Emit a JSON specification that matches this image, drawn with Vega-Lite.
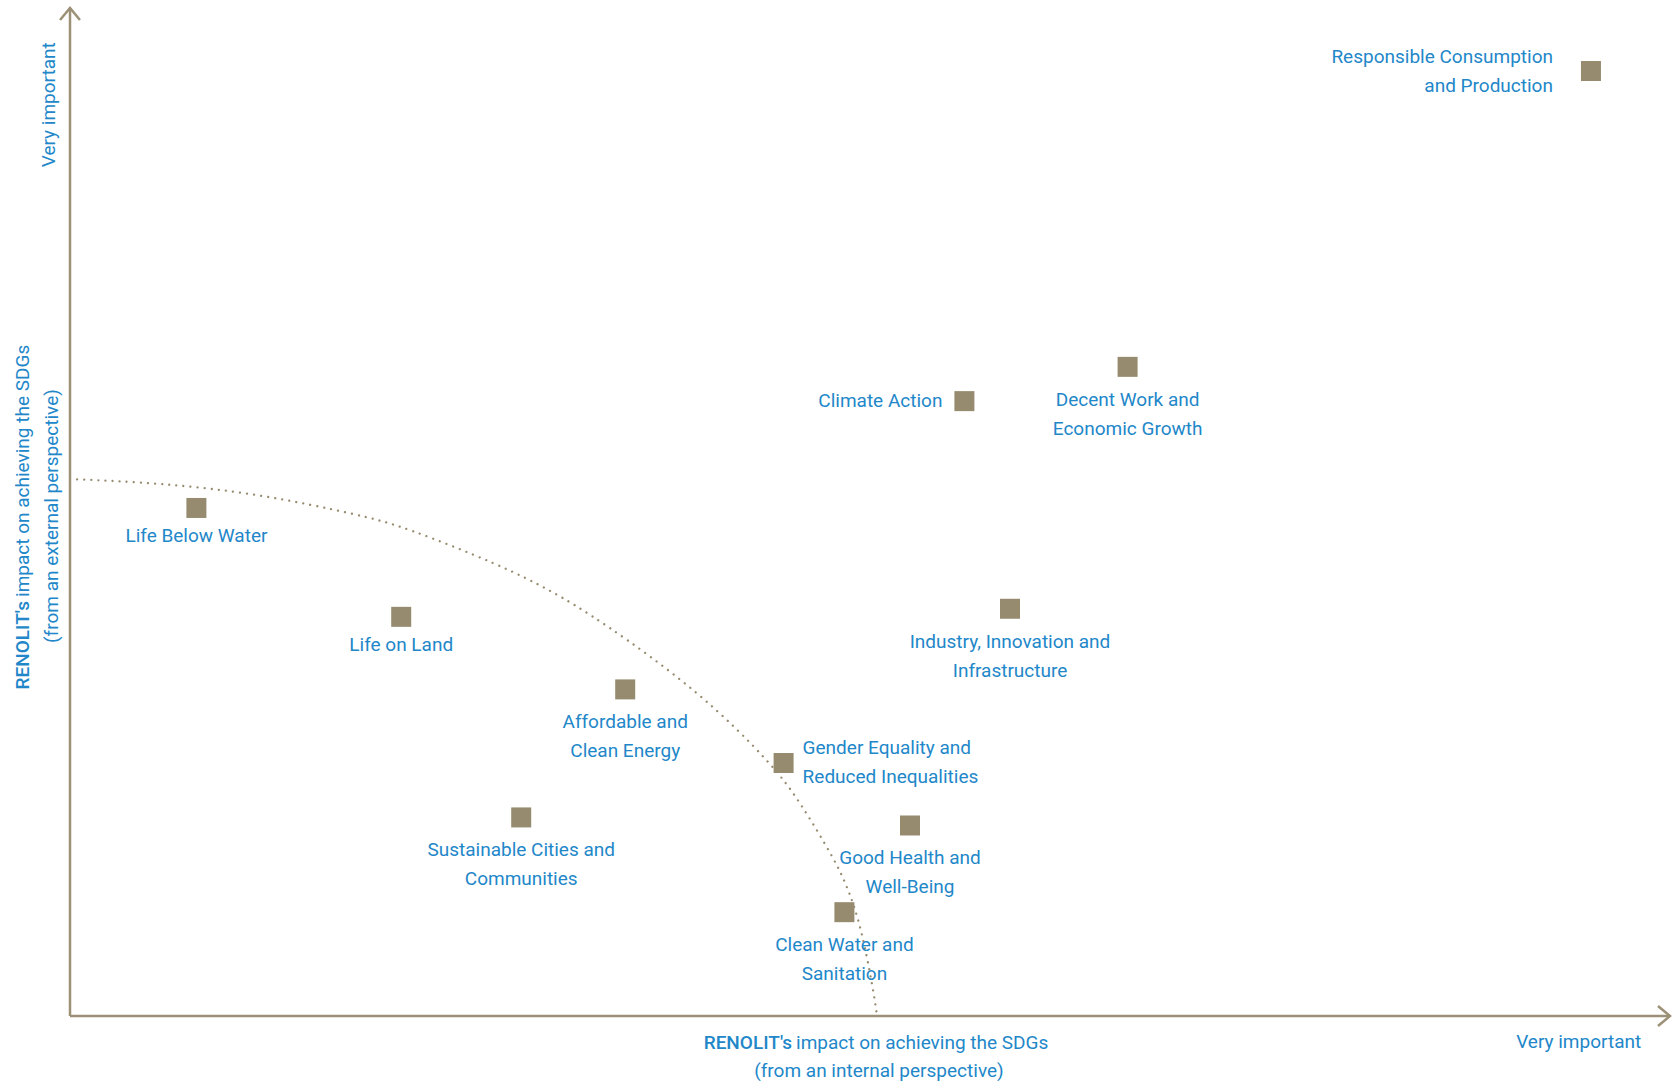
{
  "$schema": "https://vega.github.io/schema/vega-lite/v6.json",
  "usermeta": {"embedOptions": {"actions": false}},
  "width": 1600,
  "height": 1008,
  "autosize": {"type": "none"},
  "padding": {"left": 70, "top": 8, "right": 2, "bottom": 71},
  "background": "white",
  "config": {
    "view": {"stroke": null},
    "text": {"font": "Roboto", "fontSize": 19, "fontWeight": 400, "color": "#2287c9"}
  },
  "datasets": {
    "sdgs": [
      {"name": "Responsible Consumption and Production", "label": "Responsible Consumption\nand Production", "x": 95.06, "y": 93.75},
      {"name": "Decent Work and Economic Growth", "label": "Decent Work and\nEconomic Growth", "x": 66.1, "y": 64.4},
      {"name": "Climate Action", "label": "Climate Action", "x": 55.9, "y": 61.0},
      {"name": "Industry, Innovation and Infrastructure", "label": "Industry, Innovation and\nInfrastructure", "x": 58.75, "y": 40.4},
      {"name": "Life Below Water", "label": "Life Below Water", "x": 7.9, "y": 50.4},
      {"name": "Life on Land", "label": "Life on Land", "x": 20.7, "y": 39.6},
      {"name": "Affordable and Clean Energy", "label": "Affordable and\nClean Energy", "x": 34.7, "y": 32.4},
      {"name": "Gender Equality and Reduced Inequalities", "label": "Gender Equality and\nReduced Inequalities", "x": 44.6, "y": 25.1},
      {"name": "Sustainable Cities and Communities", "label": "Sustainable Cities and\nCommunities", "x": 28.2, "y": 19.7},
      {"name": "Good Health and Well-Being", "label": "Good Health and\nWell-Being", "x": 52.5, "y": 18.9},
      {"name": "Clean Water and Sanitation", "label": "Clean Water and\nSanitation", "x": 48.4, "y": 10.3}
    ],
    "curve": [
      {"x": 0, "y": 53.27},
      {"x": 5.63, "y": 52.88},
      {"x": 11.88, "y": 51.79},
      {"x": 18.13, "y": 49.7},
      {"x": 20.94, "y": 48.51},
      {"x": 26.88, "y": 44.74},
      {"x": 30.0, "y": 42.26},
      {"x": 33.13, "y": 39.29},
      {"x": 39.38, "y": 32.14},
      {"x": 43.94, "y": 24.9},
      {"x": 45.63, "y": 21.23},
      {"x": 47.88, "y": 15.28},
      {"x": 48.56, "y": 12.8},
      {"x": 48.94, "y": 11.21},
      {"x": 49.5, "y": 8.33},
      {"x": 50.19, "y": 2.78},
      {"x": 50.44, "y": 0}
    ]
  },
  "data": {"name": "sdgs"},
  "layer": [
    {
      "data": {"name": "curve"},
      "mark": {"type": "line", "interpolate": "basis", "stroke": "#978c70", "strokeWidth": 2.3, "strokeDash": [0.01, 7.1], "strokeCap": "round"},
      "encoding": {
        "x": {"field": "x", "type": "quantitative", "scale": {"domain": [0, 100], "nice": false, "zero": false}, "axis": null},
        "y": {"field": "y", "type": "quantitative", "scale": {"domain": [0, 100], "nice": false, "zero": false}, "axis": null}
      }
    },
    {
      "data": {"values": [{}]},
      "mark": {"type": "rule", "stroke": "#9c9176", "strokeWidth": 2.5},
      "encoding": {"x": {"datum": 0}, "x2": {"datum": 100}, "y": {"datum": 0}}
    },
    {
      "data": {"values": [{}]},
      "mark": {"type": "rule", "stroke": "#9c9176", "strokeWidth": 2.5},
      "encoding": {"x": {"datum": 0}, "y": {"datum": 0}, "y2": {"datum": 100}}
    },
    {
      "data": {"values": [{}]},
      "mark": {"type": "point", "shape": "M-1,-0.83L0,0L-1,0.83", "filled": false, "stroke": "#9c9176", "strokeWidth": 2.5, "size": 576, "opacity": 1},
      "encoding": {"x": {"datum": 100}, "y": {"datum": 0}}
    },
    {
      "data": {"values": [{}]},
      "mark": {"type": "point", "shape": "M-0.83,1L0,0L0.83,1", "filled": false, "stroke": "#9c9176", "strokeWidth": 2.5, "size": 576, "opacity": 1},
      "encoding": {"x": {"datum": 0}, "y": {"datum": 100}}
    },
    {
      "mark": {"type": "point", "shape": "square", "filled": true, "color": "#968b6f", "size": 400, "opacity": 1, "strokeWidth": 0},
      "encoding": {
        "x": {"field": "x", "type": "quantitative"},
        "y": {"field": "y", "type": "quantitative"},
        "tooltip": {"field": "name"}
      }
    },
    {
      "transform": [{"filter": "datum.name === 'Responsible Consumption and Production'"}],
      "mark": {"type": "text", "align": "right", "baseline": "middle", "dx": -38, "dy": -14.5, "lineBreak": "\n", "lineHeight": 29},
      "encoding": {"x": {"field": "x", "type": "quantitative"}, "y": {"field": "y", "type": "quantitative"}, "text": {"field": "label"}}
    },
    {
      "transform": [{"filter": "datum.name === 'Climate Action'"}],
      "mark": {"type": "text", "align": "right", "baseline": "middle", "dx": -22},
      "encoding": {"x": {"field": "x", "type": "quantitative"}, "y": {"field": "y", "type": "quantitative"}, "text": {"field": "label"}}
    },
    {
      "transform": [{"filter": "datum.name === 'Gender Equality and Reduced Inequalities'"}],
      "mark": {"type": "text", "align": "left", "baseline": "middle", "dx": 19, "dy": -14.5, "lineBreak": "\n", "lineHeight": 29},
      "encoding": {"x": {"field": "x", "type": "quantitative"}, "y": {"field": "y", "type": "quantitative"}, "text": {"field": "label"}}
    },
    {
      "transform": [{"filter": "datum.name === 'Life Below Water' || datum.name === 'Life on Land'"}],
      "mark": {"type": "text", "align": "center", "baseline": "top", "dy": 19},
      "encoding": {"x": {"field": "x", "type": "quantitative"}, "y": {"field": "y", "type": "quantitative"}, "text": {"field": "label"}}
    },
    {
      "transform": [{"filter": "indexof(['Decent Work and Economic Growth','Industry, Innovation and Infrastructure','Affordable and Clean Energy','Sustainable Cities and Communities','Good Health and Well-Being','Clean Water and Sanitation'], datum.name) >= 0"}],
      "mark": {"type": "text", "align": "center", "baseline": "top", "dy": 24, "lineBreak": "\n", "lineHeight": 29},
      "encoding": {"x": {"field": "x", "type": "quantitative"}, "y": {"field": "y", "type": "quantitative"}, "text": {"field": "label"}}
    },
    {
      "data": {"values": [{}]},
      "mark": {"type": "text", "align": "right", "baseline": "alphabetic", "fontWeight": 500, "text": "RENOLIT's"},
      "encoding": {"x": {"datum": 45.13}, "y": {"datum": -3.27}}
    },
    {
      "data": {"values": [{}]},
      "mark": {"type": "text", "align": "left", "baseline": "alphabetic", "text": "impact on achieving the SDGs"},
      "encoding": {"x": {"datum": 45.38}, "y": {"datum": -3.27}}
    },
    {
      "data": {"values": [{}]},
      "mark": {"type": "text", "align": "center", "baseline": "alphabetic", "text": "(from an internal perspective)"},
      "encoding": {"x": {"datum": 50.56}, "y": {"datum": -6.05}}
    },
    {
      "data": {"values": [{}]},
      "mark": {"type": "text", "align": "right", "baseline": "alphabetic", "text": "Very important"},
      "encoding": {"x": {"datum": 98.2}, "y": {"datum": -3.17}}
    },
    {
      "data": {"values": [{}]},
      "mark": {"type": "text", "align": "right", "baseline": "alphabetic", "angle": 270, "fontWeight": 500, "text": "RENOLIT's"},
      "encoding": {"x": {"datum": -2.56}, "y": {"datum": 41.17}}
    },
    {
      "data": {"values": [{}]},
      "mark": {"type": "text", "align": "left", "baseline": "alphabetic", "angle": 270, "text": "impact on achieving the SDGs"},
      "encoding": {"x": {"datum": -2.56}, "y": {"datum": 41.57}}
    },
    {
      "data": {"values": [{}]},
      "mark": {"type": "text", "align": "center", "baseline": "alphabetic", "angle": 270, "text": "(from an external perspective)"},
      "encoding": {"x": {"datum": -0.75}, "y": {"datum": 49.6}}
    },
    {
      "data": {"values": [{}]},
      "mark": {"type": "text", "align": "center", "baseline": "alphabetic", "angle": 270, "text": "Very important"},
      "encoding": {"x": {"datum": -0.94}, "y": {"datum": 90.4}}
    }
  ]
}
